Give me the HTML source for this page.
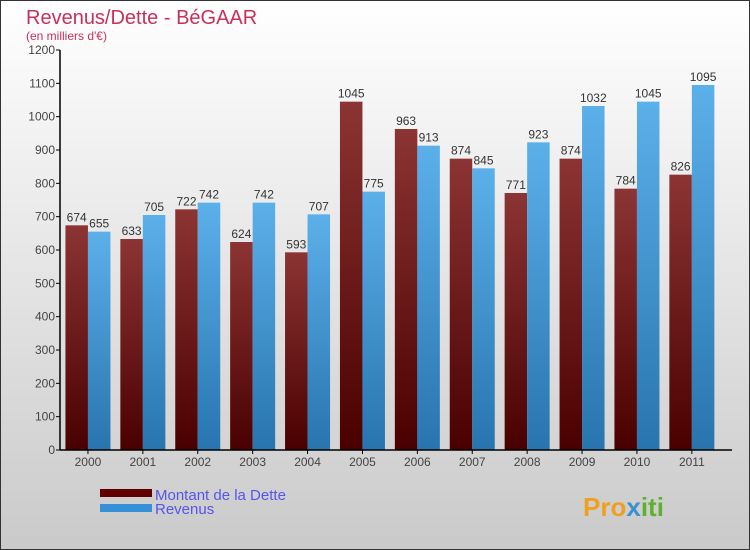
<!DOCTYPE html>
<html><head><meta charset="utf-8"><style>
body{margin:0}
#c{width:750px;height:550px;position:relative;overflow:hidden;font-family:"Liberation Sans","DejaVu Sans",sans-serif}
</style></head><body>
<div id="c">
<svg width="750" height="550" xmlns="http://www.w3.org/2000/svg" id="svg">
<defs>
<linearGradient id="bg" x1="0" y1="0" x2="0" y2="1"><stop offset="0" stop-color="#ffffff"/><stop offset="1" stop-color="#cacaca"/></linearGradient>
<linearGradient id="gd" x1="0" y1="0" x2="0" y2="1"><stop offset="0" stop-color="#8c3434"/><stop offset="1" stop-color="#4a0000"/></linearGradient>
<linearGradient id="gr" x1="0" y1="0" x2="0" y2="1"><stop offset="0" stop-color="#5cb0ea"/><stop offset="1" stop-color="#2874ae"/></linearGradient>
</defs>
<rect x="0.5" y="0.5" width="749" height="549" fill="url(#bg)" stroke="#333"/>
<text x="26" y="24" font-size="20" fill="#c8305a">Revenus/Dette - BéGAAR</text>
<text x="26" y="40" font-size="12" fill="#c8305a">(en milliers d'€)</text>
<g id="plot"></g>
<rect x="100" y="489" width="52" height="8" fill="#600000"/>
<rect x="100" y="504" width="52" height="8" fill="#3590d8"/>
<text x="155" y="500" font-size="15" fill="#5555ee">Montant de la Dette</text>
<text x="155" y="514" font-size="15" fill="#5555ee">Revenus</text>
<text x="583" y="516" font-size="26" font-weight="bold" fill="#f0a020">Pro<tspan fill="#3a90d0">x</tspan><tspan fill="#60b030">iti</tspan></text>
</svg>
</div>
<script>
const years=["2000","2001","2002","2003","2004","2005","2006","2007","2008","2009","2010","2011"];
const dette=[674,633,722,624,593,1045,963,874,771,874,784,826];
const revenus=[655,705,742,742,707,775,913,845,923,1032,1045,1095];
const ticks=[0,100,200,300,400,500,600,700,800,900,1000,1100,1200];
const NS="http://www.w3.org/2000/svg";
const g=document.getElementById('plot');
const x0=60.5,gw=54.9,bw=22.5,yb=450,ymax=1200,ph=400;
const y=v=>yb-v/ymax*ph;
const xc=i=>x0+gw*i+gw/2;
function mk(t,a){const e=document.createElementNS(NS,t);for(const k in a)e.setAttribute(k,a[k]);g.appendChild(e);return e;}
ticks.forEach(t=>{
 const l=mk('line',{x1:56,x2:60,y1:y(t),y2:y(t),stroke:'#000'});
 
 
 const tx=mk('text',{x:55,y:y(t)+4,'font-size':12,'text-anchor':'end',fill:'#444'});
 tx.textContent=t;
 
 
});
years.forEach((yr,i)=>{
 const c=xc(i);
 const b1=mk('rect',{x:c-bw,y:y(dette[i]),width:bw,height:yb-y(dette[i]),fill:'url(#gd)'});
 
 
 const b2=mk('rect',{x:c,y:y(revenus[i]),width:bw,height:yb-y(revenus[i]),fill:'url(#gr)'});
 
 
 const l1=mk('text',{x:c-bw/2,y:y(dette[i])-4,'font-size':12,'text-anchor':'middle',fill:'#333'});
 l1.textContent=dette[i];
 
 
 const l2=mk('text',{x:c+bw/2,y:y(revenus[i])-4,'font-size':12,'text-anchor':'middle',fill:'#333'});
 l2.textContent=revenus[i];
 
 
 const tk=mk('line',{x1:c,x2:c,y1:450,y2:454,stroke:'#000'});
 
 
 const xl=mk('text',{x:c,y:466,'font-size':12,'text-anchor':'middle',fill:'#444'});
 xl.textContent=yr;
 
 
});
const ax=mk('line',{x1:60,x2:60,y1:50,y2:450,stroke:'#000','stroke-width':1.5});


const bx=mk('line',{x1:60,x2:732,y1:450,y2:450,stroke:'#000','stroke-width':1.5});


</script>
</body></html>
